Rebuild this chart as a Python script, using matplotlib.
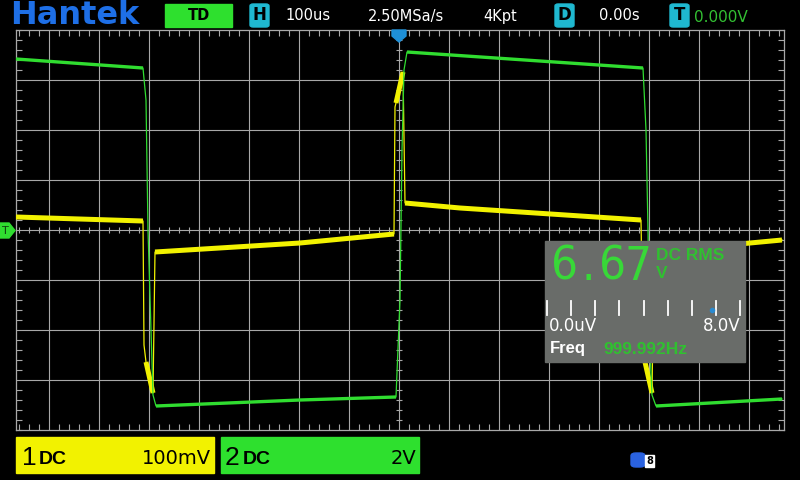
import matplotlib
matplotlib.use('Agg')
import matplotlib.pyplot as plt
from matplotlib.patches import Rectangle, FancyBboxPatch, Polygon
from matplotlib.ticker import MultipleLocator
import numpy as np

# CH1 (yellow) trace, in divisions (x: time div, y: volt div)
ch1_t = [-7.66, -5.12, -5.10, -5.06, -4.92, -4.88, -1.98, -0.10, -0.08, -0.06,
         0.08, 0.12, 1.22, 4.84, 4.88, 4.92, 5.06, 5.10, 7.66]
ch1_v = [0.26, 0.18, -2.30, -2.64, -3.26, -0.44, -0.26, -0.08, 2.46, 2.54,
         3.16, 0.54, 0.44, 0.20, -2.30, -2.64, -3.26, -0.44, -0.20]
ch1_thick = [(0, 1), (3, 4), (5, 7), (9, 10), (11, 13), (15, 16), (17, 18)]

# CH2 (green) trace
ch2_t = [-7.66, -5.12, -5.06, -5.02, -4.96, -4.92, -4.86, -1.98, -0.06, 0.02,
         0.06, 0.10, 0.16, 4.88, 4.94, 4.98, 5.02, 5.06, 5.14, 7.66]
ch2_v = [3.42, 3.24, 2.60, 0.0, -2.0, -3.30, -3.52, -3.40, -3.34, -1.40,
         1.60, 3.20, 3.56, 3.24, 2.0, 0.0, -2.40, -3.30, -3.52, -3.38]
ch2_thick = [(0, 1), (6, 8), (12, 13), (18, 19)]

# status texts
top_items = [('100us', 285), ('2.50MSa/s', 368), ('4Kpt', 483), ('0.00s', 599)]
trig_level = '0.000V'
ch1_scale, ch2_scale = '100mV', '2V'
meter_digits = [('6', 565), ('.', 588), ('6', 612), ('7', 638)]
meter_low, meter_high = '0.0uV', '8.0V'
freq_text = '999.992Hz'

YEL = '#f2f200'
GRN = '#30dd30'
GRID = '#a8a8a8'
CYAN = '#1fb8d0'
BLUE = '#1e6fe6'

W, H = 800, 480
fig = plt.figure(figsize=(8, 4.8), dpi=100, facecolor='black')


def fx(x):
    return x / W


def fy(y):
    return 1 - y / H


ax = fig.add_axes([fx(16), fy(430), (784 - 16) / W, 400 / H])
ax.set_facecolor('black')
ax.set_xlim(-7.66, 7.7)
ax.set_ylim(-4, 4)
for s in ax.spines.values():
    s.set_color(GRID)
    s.set_linewidth(0.9)
ax.set_xticks(range(-7, 8))
ax.set_yticks(range(-3, 4))
ax.xaxis.set_minor_locator(MultipleLocator(0.2))
ax.yaxis.set_minor_locator(MultipleLocator(0.2))
ax.tick_params(which='major', length=0, labelbottom=False, labelleft=False)
ax.tick_params(which='minor', direction='in', length=4, width=0.8, color=GRID,
               top=True, right=True)
ax.grid(True, which='major', color=GRID, linewidth=0.8)

# ticks along the centre cross
tx = np.arange(-7.6, 7.7, 0.2)
ax.plot(tx, np.zeros_like(tx), '|', ms=5, mew=0.8, color=GRID)
ty = np.arange(-3.8, 4.0, 0.2)
ax.plot(np.zeros_like(ty), ty, '_', ms=5, mew=0.8, color=GRID)

# traces
ax.plot(ch1_t, ch1_v, color=YEL, lw=0.9, zorder=3)
for a, b in ch1_thick:
    ax.plot(ch1_t[a:b + 1], ch1_v[a:b + 1], color=YEL, lw=3.6,
            solid_capstyle='butt', zorder=3)
ax.plot(ch2_t, ch2_v, color=GRN, lw=0.9, zorder=4)
for a, b in ch2_thick:
    ax.plot(ch2_t[a:b + 1], ch2_v[a:b + 1], color=GRN, lw=2.4,
            solid_capstyle='butt', zorder=4)

# top status bar
fig.text(fx(10), fy(15.5), 'Hantek', color=BLUE, fontsize=23, fontweight='heavy',
         family='DejaVu Sans', va='center', ha='left')
fig.add_artist(Rectangle((fx(165), fy(27)), 67 / W, 23 / H, transform=fig.transFigure,
                         color='#2ee02e'))
fig.text(fx(199), fy(16), 'TD', color='black', fontsize=10.5, fontweight='bold',
         ha='center', va='center')


def cyan_box(x, letter):
    fig.add_artist(FancyBboxPatch((fx(x), fy(27)), 19 / W, 23 / H,
                                  boxstyle='round,pad=0,rounding_size=0.004',
                                  transform=fig.transFigure, color=CYAN))
    fig.text(fx(x + 9.5), fy(15.5), letter, color='black', fontsize=12,
             fontweight='bold', ha='center', va='center')


cyan_box(250, 'H')
cyan_box(555, 'D')
cyan_box(670, 'T')
for txt, x in top_items:
    fig.text(fx(x), fy(16), txt, color='white', fontsize=10.5, ha='left', va='center')
fig.text(fx(694), fy(18), trig_level, color='#33c033', fontsize=11, ha='left', va='center')

# trigger position marker (top) and trigger level marker (left)
fig.add_artist(Polygon([(fx(392), fy(30)), (fx(406), fy(30)), (fx(406), fy(36)),
                        (fx(399), fy(42)), (fx(392), fy(36))],
                       transform=fig.transFigure, color='#1e90d8'))
fig.add_artist(Polygon([(fx(0), fy(223)), (fx(9), fy(223)), (fx(15), fy(230.5)),
                        (fx(9), fy(238)), (fx(0), fy(238))],
                       transform=fig.transFigure, color=GRN))
fig.text(fx(5), fy(231), 'T', color='#104010', fontsize=8, ha='center', va='center')

# bottom channel boxes
fig.add_artist(Rectangle((fx(16), fy(473)), 198 / W, 36 / H, transform=fig.transFigure,
                         color=YEL))
fig.add_artist(Rectangle((fx(221), fy(473)), 198 / W, 36 / H, transform=fig.transFigure,
                         color='#2ee02e'))
fig.text(fx(22), fy(458), '1', color='black', fontsize=19, family='Liberation Sans',
         ha='left', va='center')
fig.text(fx(39), fy(459), 'DC', color='black', fontsize=14, family='Liberation Sans',
         fontweight='bold', ha='left', va='center')
fig.text(fx(211), fy(458), ch1_scale, color='black', fontsize=14, ha='right', va='center')
fig.text(fx(225), fy(458), '2', color='black', fontsize=19, family='Liberation Sans',
         ha='left', va='center')
fig.text(fx(243), fy(459), 'DC', color='black', fontsize=14, family='Liberation Sans',
         fontweight='bold', ha='left', va='center')
fig.text(fx(416), fy(458), ch2_scale, color='black', fontsize=14, ha='right', va='center')

# usb icon
fig.add_artist(FancyBboxPatch((fx(631), fy(467)), 14 / W, 14 / H,
                              boxstyle='round,pad=0,rounding_size=0.006',
                              transform=fig.transFigure, color='#2a62e0'))
fig.add_artist(Rectangle((fx(645), fy(467)), 9 / W, 12 / H, transform=fig.transFigure,
                         color='white'))
fig.text(fx(649.5), fy(461), '8', color='black', fontsize=7, fontweight='bold',
         ha='center', va='center')

# meter box
fig.add_artist(Rectangle((fx(545), fy(362)), 200 / W, 121 / H, transform=fig.transFigure,
                         color='#696c69'))
for d, x in meter_digits:
    fig.text(fx(x), fy(267), d, color='#38d838', fontsize=34, family='DejaVu Sans',
             fontstretch='condensed', ha='center', va='center')
fig.text(fx(656), fy(256), 'DC RMS', color='#30c030', fontsize=12.5,
         family='Liberation Sans', fontweight='bold', ha='left', va='center')
fig.text(fx(656), fy(273), 'V', color='#30c030', fontsize=12.5,
         family='Liberation Sans', fontweight='bold', ha='left', va='center')
for x in np.linspace(547, 740, 9):
    fig.add_artist(plt.Line2D([fx(x), fx(x)], [fy(301), fy(315)], color='white', lw=1.3,
                              transform=fig.transFigure))
fig.add_artist(plt.Line2D([fx(712)], [fy(310)], marker='o', ms=3, color='#2a8ad0',
                          transform=fig.transFigure))
fig.text(fx(549), fy(326), meter_low, color='white', fontsize=12, ha='left', va='center')
fig.text(fx(741), fy(326), meter_high, color='white', fontsize=12, ha='right', va='center')
fig.text(fx(550), fy(349), 'Freq', color='white', fontsize=12, fontweight='bold',
         family='Liberation Sans', ha='left', va='center')
fig.text(fx(603), fy(349), freq_text, color='#30c030', fontsize=12.5, fontweight='bold',
         family='Liberation Sans', ha='left', va='center')

fig.savefig('out.png', dpi=100, facecolor='black')
